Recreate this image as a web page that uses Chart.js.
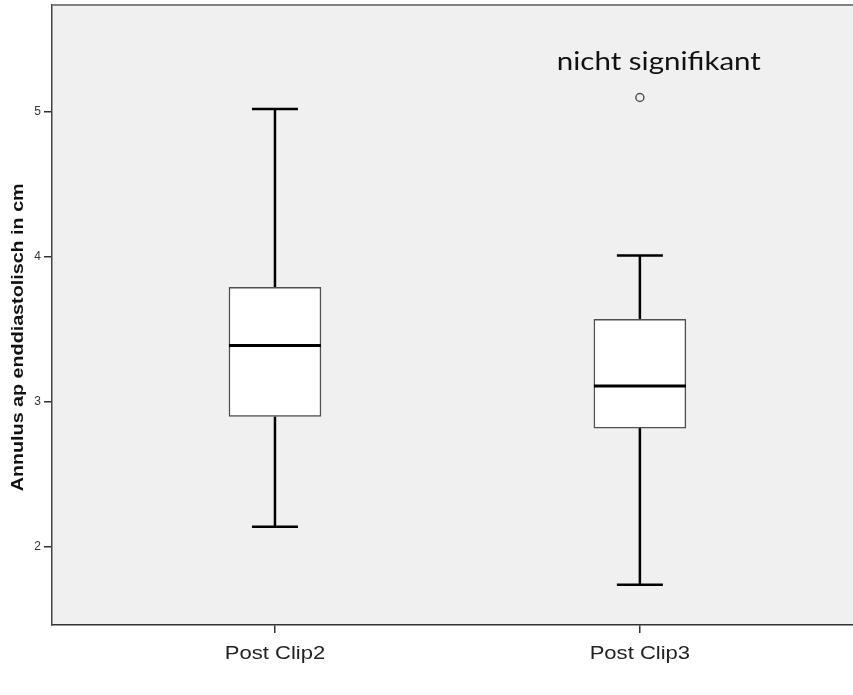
<!DOCTYPE html>
<html>
<head>
<meta charset="utf-8">
<script src="https://cdn.jsdelivr.net/npm/chart.js@4/dist/chart.umd.min.js"></script>
<style>
  html, body { margin: 0; padding: 0; background: #ffffff; }
  #wrap { width: 853px; height: 695px; }
</style>
</head>
<body>
<div id="wrap"><canvas id="c" width="853" height="695"></canvas></div>
<script>
// Box plot summaries per group (cm)
const categories = ['Post Clip2', 'Post Clip3'];
const whiskerLow = [2.14, 1.74];
const quartile1 = [2.90, 2.82];
const medians = [3.39, 3.11];
const quartile3 = [3.79, 3.57];
const whiskerHigh = [5.02, 4.01];
const outliers = [[], [5.10]];
const yTicks = [2, 3, 4, 5];
const yTitle = 'Annulus ap enddiastolisch in cm';
const noteText = 'nicht signifikant';
const notePos = { x: 1.052, y: 5.29 };

const boxData = categories.map((c, i) => ({ x: i, y: [quartile1[i], quartile3[i]] }));
const outlierData = [];
outliers.forEach((list, i) => list.forEach(v => outlierData.push({ x: i, y: v })));

const BOX_W = 92;
const CAP_W = 46;
const TEXT_STRETCH = 1.16;

function stretchedText(ctx, text, x, y, sx, rotate) {
  ctx.save();
  ctx.translate(x, y);
  if (rotate) ctx.rotate(rotate);
  ctx.scale(sx, 1);
  ctx.fillText(text, 0, 0);
  ctx.restore();
}

const boxPlotLines = {
  id: 'boxPlotLines',
  beforeDraw(chart) {
    const { ctx, chartArea: a } = chart;
    ctx.save();
    ctx.fillStyle = '#f0f0f0';
    ctx.fillRect(a.left, a.top, a.right - a.left, a.bottom - a.top);
    ctx.restore();
  },
  beforeDatasetsDraw(chart) {
    const { ctx } = chart;
    const xs = chart.scales.x, ys = chart.scales.y;
    ctx.save();
    ctx.strokeStyle = '#000000';
    ctx.lineWidth = 2.5;
    categories.forEach((c, i) => {
      const cx = xs.getPixelForValue(i);
      const segs = [[whiskerLow[i], quartile1[i]], [quartile3[i], whiskerHigh[i]]];
      ctx.beginPath();
      segs.forEach(([a, b]) => {
        ctx.moveTo(cx, ys.getPixelForValue(a));
        ctx.lineTo(cx, ys.getPixelForValue(b));
      });
      [whiskerLow[i], whiskerHigh[i]].forEach(v => {
        const py = ys.getPixelForValue(v);
        ctx.moveTo(cx - CAP_W / 2, py);
        ctx.lineTo(cx + CAP_W / 2, py);
      });
      ctx.stroke();
    });
    ctx.restore();
  },
  afterDatasetsDraw(chart) {
    const { ctx, chartArea: a } = chart;
    const xs = chart.scales.x, ys = chart.scales.y;
    ctx.save();
    ctx.strokeStyle = '#000000';
    ctx.lineWidth = 3;
    categories.forEach((c, i) => {
      const cx = xs.getPixelForValue(i);
      const py = ys.getPixelForValue(medians[i]);
      ctx.beginPath();
      ctx.moveTo(cx - BOX_W / 2, py);
      ctx.lineTo(cx + BOX_W / 2, py);
      ctx.stroke();
    });
    // frame line along the top of the plot
    ctx.strokeStyle = '#808080';
    ctx.lineWidth = 2;
    ctx.beginPath();
    ctx.moveTo(a.left, a.top);
    ctx.lineTo(a.right, a.top);
    ctx.stroke();

    // note above the groups
    ctx.fillStyle = '#111111';
    ctx.font = '25px Lato, "Open Sans", sans-serif';
    ctx.textAlign = 'center';
    ctx.textBaseline = 'alphabetic';
    stretchedText(ctx, noteText, xs.getPixelForValue(notePos.x), ys.getPixelForValue(notePos.y), 1.18);

    // category labels under the ticks
    ctx.fillStyle = '#222222';
    ctx.font = '19px "Liberation Sans", Arial, sans-serif';
    ctx.textBaseline = 'middle';
    categories.forEach((c, i) => {
      stretchedText(ctx, c, xs.getPixelForValue(i), a.bottom + 29, TEXT_STRETCH);
    });

    // y axis title
    ctx.fillStyle = '#111111';
    ctx.font = 'bold 17px "Liberation Sans", Arial, sans-serif';
    ctx.textBaseline = 'middle';
    stretchedText(ctx, yTitle, 18, a.top + (a.bottom - a.top) * 0.536, TEXT_STRETCH, -Math.PI / 2);
    ctx.restore();
  }
};

new Chart(document.getElementById('c'), {
  type: 'bar',
  data: {
    datasets: [
      {
        type: 'bar',
        data: boxData,
        backgroundColor: '#ffffff',
        borderColor: '#505050',
        borderWidth: 1.5,
        borderSkipped: false,
        barThickness: BOX_W
      },
      {
        type: 'scatter',
        data: outlierData,
        pointStyle: 'circle',
        pointRadius: 4,
        pointBorderWidth: 1.5,
        pointBorderColor: '#555555',
        pointBackgroundColor: 'rgba(0,0,0,0)'
      }
    ]
  },
  options: {
    responsive: false,
    animation: false,
    layout: { autoPadding: false, padding: { top: 5, right: 0, left: 0, bottom: 0 } },
    plugins: { legend: { display: false }, tooltip: { enabled: false } },
    scales: {
      x: {
        type: 'linear',
        offset: false,
        min: -0.611,
        max: 1.584,
        afterBuildTicks: s => { s.ticks = categories.map((c, i) => ({ value: i })); },
        afterFit: s => { s.height = 70; s.paddingLeft = 0; s.paddingRight = 0; },
        ticks: { display: false },
        grid: { offset: false, drawOnChartArea: false, drawTicks: true, tickLength: 8, color: '#333333', lineWidth: 1.5 },
        border: { display: true, color: '#333333', width: 1.5 }
      },
      y: {
        type: 'linear',
        min: 1.462,
        max: 5.738,
        afterBuildTicks: s => { s.ticks = yTicks.map(v => ({ value: v })); },
        afterFit: s => { s.width = 52; s.paddingTop = 0; s.paddingBottom = 0; },
        ticks: {
          color: '#333333',
          font: { family: '"Liberation Sans", Arial, sans-serif', size: 12 },
          padding: 3
        },
        grid: { drawOnChartArea: false, drawTicks: true, tickLength: 8, color: '#333333', lineWidth: 1.5 },
        border: { display: true, color: '#444444', width: 1.5 }
      }
    }
  },
  plugins: [boxPlotLines]
});
</script>
</body>
</html>
